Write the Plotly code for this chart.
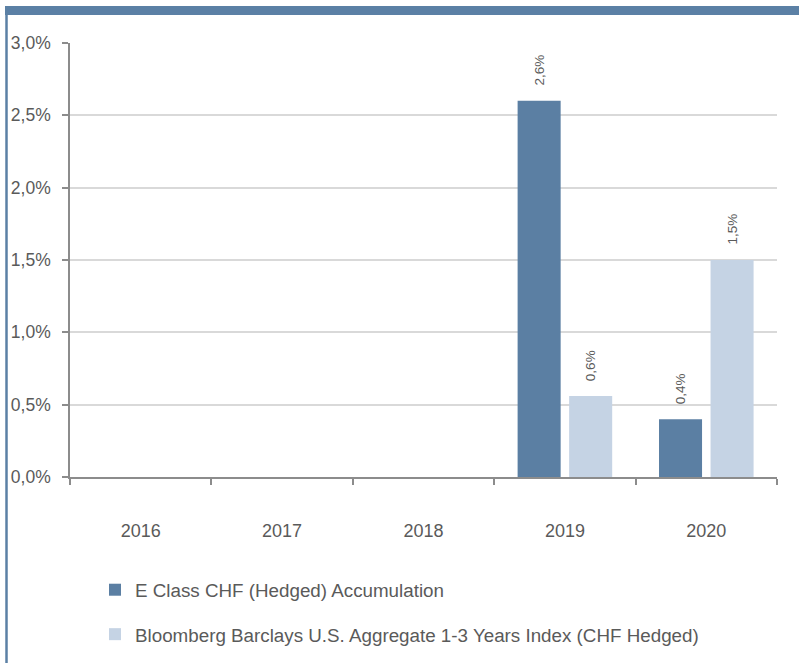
import plotly.graph_objects as go

years = ["2016", "2017", "2018", "2019", "2020"]
fund_name = "E Class CHF (Hedged) Accumulation"
bench_name = "Bloomberg Barclays U.S. Aggregate 1-3 Years Index (CHF Hedged)"
fund_values = [None, None, None, 2.6, 0.4]
bench_values = [None, None, None, 0.56, 1.5]
y_ticks = [0.0, 0.5, 1.0, 1.5, 2.0, 2.5, 3.0]
y_tick_labels = ["0,0%", "0,5%", "1,0%", "1,5%", "2,0%", "2,5%", "3,0%"]

DARK = "#5b7fa3"
LIGHT = "#c5d3e4"
GRAY = "#5a5a5a"
FONT = "Liberation Sans, Arial, sans-serif"

W, H = 799, 663
L, R, T, B = 70, 22, 43, 186
pw = W - L - R
ph = H - T - B

def px_x(p):
    return (p - L) / pw

def px_y(p):
    return (H - B - p) / ph

fig = go.Figure()
fig.add_trace(go.Bar(x=years, y=fund_values, name=fund_name, marker=dict(color=DARK, line=dict(width=0)),
                     legendgroup="a"))
fig.add_trace(go.Bar(x=years, y=bench_values, name=bench_name, marker=dict(color=LIGHT, line=dict(width=0)),
                     legendgroup="b"))

annotations = []
for vals, shift in ((fund_values, -25.75), (bench_values, 25.75)):
    for i, v in enumerate(vals):
        if v is None:
            continue
        annotations.append(dict(
            x=i, y=v, xref="x", yref="y", text=f"{v:.1f}".replace(".", ",") + "%",
            textangle=-90, showarrow=False, xanchor="center", yanchor="bottom",
            xshift=shift, yshift=13, font=dict(size=13.5, color=GRAY, family=FONT)))

shapes = [
    dict(type="rect", xref="paper", yref="paper", x0=px_x(5), x1=px_x(800), y0=px_y(15), y1=px_y(6),
         fillcolor="#5b80a5", line=dict(width=0), layer="below"),
    dict(type="line", xref="paper", yref="paper", x0=px_x(6.5), x1=px_x(6.5), y0=px_y(6), y1=px_y(663),
         line=dict(color="#5b80a5", width=2.5), layer="below"),
]

fig.update_layout(
    width=W, height=H,
    margin=dict(l=L, r=R, t=T, b=B, autoexpand=False),
    paper_bgcolor="white", plot_bgcolor="white",
    barmode="group", bargap=0.271, bargroupgap=0.165,
    font=dict(family=FONT, size=17.5, color=GRAY),
    annotations=annotations, shapes=shapes,
    showlegend=True,
    legend=dict(x=px_x(95), y=px_y(571), xanchor="left", yanchor="top",
                orientation="v", tracegroupgap=17, font=dict(size=18.8, color=GRAY, family=FONT),
                bgcolor="rgba(0,0,0,0)", itemclick=False),
)
fig.update_xaxes(
    type="category", range=[-0.5, len(years) - 0.5], showgrid=False, showline=True,
    linecolor="#8c8c8c", linewidth=1.5,
    ticks="outside", tickson="boundaries", ticklen=6, tickcolor="#8c8c8c", tickwidth=1.5,
    ticklabelstandoff=37, tickangle=0, tickfont=dict(size=18, color=GRAY, family=FONT), fixedrange=True,
)
fig.update_yaxes(
    range=[0, 3.0], tickvals=y_ticks, ticktext=y_tick_labels,
    showgrid=True, gridcolor="#d9d9d9", gridwidth=1.5, zeroline=False,
    showline=True, linecolor="#8c8c8c", linewidth=1.5,
    ticks="outside", ticklen=6, tickcolor="#8c8c8c", tickwidth=1.5,
    ticklabelstandoff=8, tickfont=dict(size=17.5, color=GRAY, family=FONT), fixedrange=True,
)

fig.write_html("out.html", config={"displayModeBar": False},
               post_script="document.body.style.margin='0';document.body.style.overflow='hidden';")
